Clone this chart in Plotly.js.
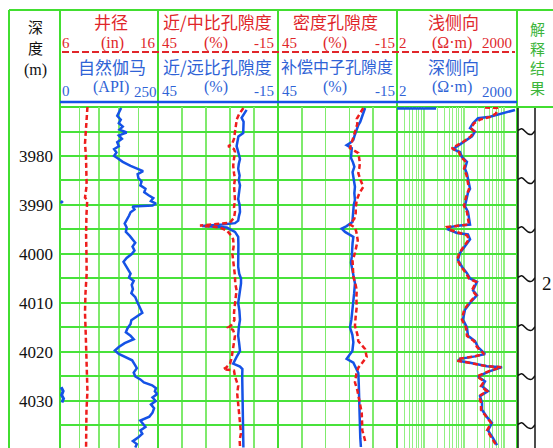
<!DOCTYPE html>
<html><head><meta charset="utf-8">
<script src="https://cdn.plot.ly/plotly-3.0.1.min.js"></script>
<style>html,body{margin:0;padding:0;background:#fff}#chart{width:553px;height:448px}</style>
</head><body><div id="chart"></div>
<script>
// ---------------- DATA ----------------
const depthTicks = [3970,3975,3980,3985,3990,3995,4000,4005,4010,4015,4020,4025,4030,4035];
const depthLabels = ['','','3980','','3990','','4000','','4010','','4020','','4030',''];

// Track 1: natural gamma (API) and caliper (in)
const grDepth = [3970.2,3971,3971.8,3972.6,3973.3,3974,3974.6,3975.2,3975.8,3976.5,3977.2,3978,3978.6,3979.3,3980,3980.5,3981.2,3982,3982.6,3983.1,3983.7,3984.5,3985.2,3986,3986.7,3987.4,3988,3988.6,3989.2,3989.7,3990.1,3990.3,3990.9,3991.5,3992.2,3993,3993.8,3994.6,3995.5,3996.3,3997,3997.7,3998.5,3999.3,4000,4000.8,4001.6,4002.4,4003.2,4004,4004.8,4005.5,4006.3,4007.2,4008,4008.8,4009.6,4010.4,4011.2,4012,4012.8,4013.5,4014.3,4015.2,4016,4016.7,4017.4,4018.2,4019,4019.7,4020.4,4021,4021.7,4022.5,4023.3,4024.2,4025,4025.6,4026.2,4026.8,4027.4,4028,4028.6,4029.3,4030,4030.7,4031.5,4032.4,4033.2,4034,4034.6,4035.3,4036,4036.7,4037.4,4038.2,4038.8,4039.5];
const grValue = [156,150,146,155,150,160,152,170,150,158,146,150,138,144,138,148,160,180,200,212,198,200,208,205,218,215,226,238,232,245,236,185,190,180,176,170,165,170,168,178,186,192,185,190,183,170,162,168,172,180,176,188,183,186,182,192,196,200,205,210,195,182,180,172,168,180,188,165,150,140,150,165,184,190,196,188,192,205,214,235,245,242,248,236,244,232,240,236,228,205,212,218,205,210,200,186,196,192];
const grWrapDepth = [3989.2,3989.6,3989.8,4027.2,4028,4028.8,4029.5,4030.3];
const grWrapValue = [2,7,null,3,8,4,9,5];
const calDepth = [3970,3972,3975,3977.5,3980,3983,3986,3988.5,3989,3992,3996,4000,4004,4008,4012,4016,4020,4024,4028,4032,4036,4039.6];
const calValue = [8.8,8.75,8.68,8.55,8.65,8.7,8.72,8.55,8.78,8.7,8.66,8.7,8.72,8.6,8.55,8.62,8.66,8.72,8.8,8.7,8.66,8.66];

// Track 2: near/far ratio porosity (blue) and near/mid ratio porosity (red), %
const nfDepth = [3970.6,3971.4,3972.2,3973,3974,3975.3,3976,3977,3978,3979,3980.6,3981.6,3982.6,3984,3985,3986,3987.4,3988.8,3990,3991.4,3992.4,3993.2,3993.7,3994,3994.3,3994.6,3995.5,3996.5,3998,3999.8,4001,4002.6,4004,4005,4006,4008,4010,4011.6,4013.4,4015,4016.7,4018.3,4019.8,4021,4022.4,4023,4023.5,4025,4026.9,4029,4031.6,4033.5,4035.7,4037.5,4039.5];
const nfValue = [0.7,2,3.2,2.2,2.4,2.4,4.8,5.2,5.7,5,4,4.6,4.9,4.2,4.6,4,4.5,4.9,4.2,4,4.6,4.9,6.5,13,23,10.6,6.5,4.9,4.8,4.9,4.6,4.9,4.4,3.5,3.5,4.2,4.9,4.3,4,4.6,4.9,4.4,4,5.7,7.4,4,2.8,2.9,2.8,2.9,2.8,2.5,2.3,2.5,2.3];
const nmDepth = [3970.2,3971.5,3972.5,3974,3975.3,3976.5,3977.6,3978,3978.6,3979.2,3980.5,3982,3983.5,3984.7,3986,3987.5,3989,3990.5,3991.4,3992.6,3993.6,3994.2,3994.6,3995.2,3996.2,3997,3998.5,4000,4001.2,4002.6,4004.5,4006,4007.4,4009,4010.4,4012,4013.5,4014.6,4015,4015.5,4016.7,4018,4019.3,4020.5,4021.2,4022.4,4023.2,4023.5,4023.8,4025,4026.9,4028.5,4030.4,4032,4033.3,4035,4036.6,4038,4039.2];
const nmValue = [2.3,4.5,5.6,6,6.5,7,8,9.9,7,6.5,7,7.4,7,6.5,7,6.6,6.5,7,6.5,7,9,24,14,10.6,8.5,7.4,7.2,7.8,7.4,7,6.5,6.4,5.7,6.2,6.5,7,6.8,8.5,9.9,7.5,6.5,7,7.4,7.8,8.2,9,11,12.4,7,6.5,4.9,5.4,4.9,4.6,4,3.8,3.5,4.2,4];

// Track 3: compensated neutron porosity (blue) and density porosity (red), %
const cnDepth = [3970.2,3971,3972,3973,3973.7,3974.5,3975.3,3976,3976.7,3977.3,3977.8,3978.4,3979.4,3980.4,3981.3,3982.2,3983.3,3984.3,3985.3,3986.3,3987.6,3989,3990,3991,3992.3,3993.5,3994.3,3994.8,3995.5,3996,3996.5,3997.8,3999.2,4000.5,4001.8,4003.3,4004.7,4005.4,4006,4008,4010,4011.6,4013.4,4015,4016.5,4018,4019.8,4020.6,4021.4,4022.2,4023.3,4024.3,4026.3,4028.4,4030.4,4032.4,4034,4035.9,4037.6,4039.4];
const cnValue = [1.1,1.8,2.5,3.5,4.5,5.2,6.2,6.5,7,8.5,10.4,7.8,8,8.2,7.2,6.5,7.4,7,6.8,6.2,6.5,6.2,6.8,7,7.2,7.5,10.4,12.9,11.2,9,7,7.4,7.5,7.8,8.2,7.5,7,6.5,6.2,6.6,7,7.6,8,8.7,7.5,7,7.5,9,10.4,7,5.5,4.5,4.3,4.2,3.8,3.7,3.9,3.7,3.5,3.2];
const denDepth = [3970.2,3971.2,3972.4,3973.5,3975,3976.2,3977.3,3978.4,3979.4,3980.4,3981.4,3982.5,3983.5,3984.8,3986.3,3987.6,3989,3990.5,3991.6,3992.8,3994,3994.6,3995.5,3997.2,3998.6,3999.8,4001.4,4002.8,4004.7,4006,4007.4,4009,4010.8,4012.6,4014.6,4016.4,4017.8,4019.4,4021,4022.2,4023.2,4024.5,4026.2,4027.8,4030.4,4032.4,4034.4,4036,4037.6,4038.6];
const denValue = [2,3.5,5.3,5,6.2,7,7.8,8.7,4.5,4.2,3.7,4,4.5,3.5,2,4,5.3,5.8,5.8,6.5,8.7,6.2,5.5,4.8,5.5,6.2,7.4,7.2,7,6,5.3,5.5,5.3,5.8,6.2,5,4.5,1.1,0.3,2.5,4.5,5.5,6.2,5,3.7,2.8,2.6,2.5,1.4,0.8];

// Track 4: deep laterolog (blue) and shallow laterolog (red), ohm.m
const lldDepth = [3970.3,3970.3,3970.5,3970.6,3971.2,3972,3972.3,3973.3,3974.3,3975,3976,3977,3978,3978.6,3979.2,3980.2,3981.2,3982.6,3983.6,3984.7,3985.7,3986.7,3987.5,3988.4,3990.2,3991.4,3992.8,3994,3994.2,3994.5,3995,3995.7,3996,3997,3998.4,3999.8,4001.2,4002.6,4003.9,4005,4005.7,4006.5,4007.4,4008.4,4010,4011.4,4013.4,4015,4016.7,4017.8,4019,4020.4,4020.9,4021.4,4021.8,4022.2,4022.9,4023.1,4023.9,4025,4026,4027,4028,4029,4030.4,4031.8,4033.3,4034.5,4036,4037.6,4039];
const lldValue = [2,19,null,1782,893,423,212,159,134,178,150,100,67,50,75,84,112,100,112,119,126,134,119,112,100,119,126,134,75,42,38,63,119,134,100,75,67,84,112,134,200,178,159,200,134,100,89,112,119,178,212,317,178,75,67,134,356,843,423,212,317,267,377,238,267,267,356,474,377,502,632];
const llsDepth = [3970.1,3970.2,3970.6,3971.3,3972,3972.5,3973.3,3974.3,3975,3976,3977,3978,3978.4,3979.2,3980.2,3981.2,3982.6,3984,3985.5,3986.7,3988.4,3990.2,3991.4,3993,3994,3994.2,3994.5,3995,3995.7,3996.2,3997,3998.4,3999.8,4001.2,4002.6,4003.9,4005,4005.7,4006.5,4007.4,4008.4,4010,4011.4,4013.4,4015,4016.7,4017.8,4019,4020.4,4020.9,4021.4,4021.8,4022.2,4022.9,4023.1,4023.9,4025,4026,4027,4028,4029,4030.4,4031.8,4033.3,4034.5,4036,4037.6,4039];
const llsValue = [317,632,632,600,450,250,170,140,170,140,95,55,47,70,80,105,95,110,118,126,106,95,112,122,126,70,36,40,70,112,126,95,72,64,80,106,126,190,170,150,190,126,95,84,106,112,170,200,300,170,70,64,126,340,800,400,200,300,250,356,226,252,252,340,450,356,474,600];

// Interpretation column
const breakDepths = [3975,3985,3995,4005,4015,4025,4035];
const layerNames = ['2'];
const layerDepths = [4006];

// ---------------- STYLE ----------------
const W = 553, H = 448;
const px = v => v / W;
const py = v => 1 - v / H;
const RED = '#ee1d1d', BLUE = '#1552e6';
const HRED = '#e0262a', HBLUE = '#2f63d6', HGREEN = '#3cb53a';
const GREEN = '#42de30', HGRID = '#48e23a', VGRID = '#7fea6c', LGRID = '#92f082';
const SERIF = 'Liberation Serif, Noto Sans CJK SC, serif';
const CJK = 'Noto Sans CJK SC, Liberation Serif, sans-serif';

const dashStyle = '5px,3px';
const traces = [
  {x: grValue, y: grDepth, xaxis: 'x', yaxis: 'y', mode: 'lines', line: {color: BLUE, width: 2.5}},
  {x: grWrapValue, y: grWrapDepth, xaxis: 'x', yaxis: 'y', mode: 'lines', line: {color: BLUE, width: 3}},
  {x: calValue, y: calDepth, xaxis: 'x6', yaxis: 'y', mode: 'lines', line: {color: RED, width: 2.5, dash: dashStyle}},
  {x: nfValue, y: nfDepth, xaxis: 'x2', yaxis: 'y', mode: 'lines', line: {color: BLUE, width: 2.5}},
  {x: nmValue, y: nmDepth, xaxis: 'x2', yaxis: 'y', mode: 'lines', line: {color: RED, width: 2.5, dash: dashStyle}},
  {x: cnValue, y: cnDepth, xaxis: 'x3', yaxis: 'y', mode: 'lines', line: {color: BLUE, width: 2.5}},
  {x: denValue, y: denDepth, xaxis: 'x3', yaxis: 'y', mode: 'lines', line: {color: RED, width: 2.5, dash: dashStyle}},
  {x: lldValue, y: lldDepth, xaxis: 'x4', yaxis: 'y', mode: 'lines', line: {color: BLUE, width: 2.5}},
  {x: llsValue, y: llsDepth, xaxis: 'x4', yaxis: 'y', mode: 'lines', line: {color: RED, width: 2.5, dash: dashStyle}}
];
// break symbols in interpretation column
breakDepths.forEach(d => {
  traces.push({x: [0, 0.22, 0.6, 0.82, 1], y: [d - 0.2, d - 0.55, d + 0.5, d + 0.55, d - 0.15],
    xaxis: 'x5', yaxis: 'y2', mode: 'lines', line: {color: '#111', width: 1.5, shape: 'spline'}});
});

const yRange = [4039.6, 3970];
const yDom = [0, py(107)];
const baseX = {showticklabels: false, zeroline: false, ticks: '', anchor: 'y', fixedrange: true, showline: false};

const layout = {
  width: W, height: H, margin: {l: 0, r: 0, t: 0, b: 0},
  paper_bgcolor: '#fff', plot_bgcolor: 'rgba(0,0,0,0)', showlegend: false,
  yaxis: {domain: yDom, range: yRange, tickmode: 'array', tickvals: depthTicks, ticktext: depthLabels,
    showgrid: true, gridcolor: HGRID, gridwidth: 2, zeroline: false, ticks: '', anchor: 'x',
    ticklabelstandoff: 6, tickfont: {family: SERIF, size: 17, color: '#111'}, fixedrange: true},
  yaxis2: {domain: yDom, range: yRange, showgrid: false, zeroline: false, showticklabels: false, ticks: '', anchor: 'x5', fixedrange: true},
  xaxis: Object.assign({}, baseX, {domain: [px(60), px(158)], range: [0, 250], tick0: 0, dtick: 50, showgrid: true, gridcolor: VGRID, gridwidth: 1.5}),
  xaxis6: Object.assign({}, baseX, {overlaying: 'x', range: [6, 16], showgrid: false}),
  xaxis2: Object.assign({}, baseX, {domain: [px(158), px(278)], range: [45, -15], tick0: 45, dtick: 12, showgrid: true, gridcolor: VGRID, gridwidth: 1.5}),
  xaxis3: Object.assign({}, baseX, {domain: [px(278), px(397)], range: [45, -15], tick0: 45, dtick: 12, showgrid: true, gridcolor: VGRID, gridwidth: 1.5}),
  xaxis4: Object.assign({}, baseX, {domain: [px(397), px(517)], type: 'log', range: [Math.log10(2), Math.log10(2000)], dtick: 'D1', showgrid: true, gridcolor: LGRID, gridwidth: 1}),
  xaxis5: Object.assign({}, baseX, {domain: [px(518), px(535)], range: [0, 1], showgrid: false, anchor: 'y2'}),
  shapes: [],
  annotations: []
};

const L = (x0, y0, x1, y1, color, width, dash) => ({type: 'line', xref: 'paper', yref: 'paper',
  x0: px(x0), x1: px(x1), y0: py(y0), y1: py(y1), layer: 'below', line: {color: color, width: width, dash: dash || 'solid'}});
layout.shapes.push(L(9, 10, 553, 10, GREEN, 2));
[9, 60, 158, 278, 397, 517].forEach(x => layout.shapes.push(L(x, 10, x, 448, GREEN, 2)));
layout.shapes.push(L(60, 107, 553, 107, GREEN, 2));
layout.shapes.push(L(62, 52, 515, 52, HRED, 2, '7px,3px'));
layout.shapes.push(L(60, 102, 517, 102, BLUE, 2.5));
layout.shapes.push(L(518, 108, 518, 448, '#111', 1.5));
layout.shapes.push(L(535, 108, 535, 448, '#111', 1.5));

const A = (text, x, y, size, color, family) => layout.annotations.push({text: text, xref: 'paper', yref: 'paper',
  x: px(x), y: py(y), xanchor: 'center', yanchor: 'middle', showarrow: false,
  font: {family: family || CJK, size: size, color: color}});

// depth header
A('深', 35, 27, 15, '#111'); A('度', 35, 47, 15, '#111'); A('(m)', 35, 70, 16, '#111', SERIF);
// track 1
A('井径', 111, 21, 17, HRED); A('6', 66, 43, 15, HRED, SERIF); A('(in)', 112, 43, 16, HRED, SERIF); A('16', 148, 43, 15, HRED, SERIF);
A('自然伽马', 112, 66, 17, HBLUE); A('0', 66, 91, 15, HBLUE, SERIF); A('(API)', 111, 87, 16, HBLUE, SERIF); A('250', 145, 92, 15, HBLUE, SERIF);
// track 2
A('近/中比孔隙度', 217, 21, 17, HRED); A('45', 169, 43, 15, HRED, SERIF); A('(%)', 216, 43, 16, HRED, SERIF); A('-15', 264, 43, 15, HRED, SERIF);
A('近/远比孔隙度', 217, 66, 17, HBLUE); A('45', 169, 91, 15, HBLUE, SERIF); A('(%)', 216, 87, 16, HBLUE, SERIF); A('-15', 264, 91, 15, HBLUE, SERIF);
// track 3
A('密度孔隙度', 335, 21, 17, HRED); A('45', 289, 43, 15, HRED, SERIF); A('(%)', 335, 43, 16, HRED, SERIF); A('-15', 385, 43, 15, HRED, SERIF);
A('补偿中子孔隙度', 337, 66, 16, HBLUE); A('45', 289, 91, 15, HBLUE, SERIF); A('(%)', 335, 87, 16, HBLUE, SERIF); A('-15', 385, 91, 15, HBLUE, SERIF);
// track 4
A('浅侧向', 453, 21, 17, HRED); A('2', 403, 43, 15, HRED, SERIF); A('(Ω·m)', 452, 43, 16, HRED, SERIF); A('2000', 497, 43, 15, HRED, SERIF);
A('深侧向', 453, 66, 17, HBLUE); A('2', 403, 91, 15, HBLUE, SERIF); A('(Ω·m)', 452, 87, 16, HBLUE, SERIF); A('2000', 497, 92, 15, HBLUE, SERIF);
// interpretation header
A('解<br>释<br>结<br>果', 537, 58, 15, HGREEN);
// layer labels
layerNames.forEach((n, i) => layout.annotations.push({text: n, xref: 'paper', yref: 'y', x: px(547), y: layerDepths[i],
  xanchor: 'center', yanchor: 'middle', showarrow: false, font: {family: SERIF, size: 19, color: '#111'}}));

Plotly.newPlot('chart', traces, layout, {staticPlot: true, displayModeBar: false});
</script></body></html>
